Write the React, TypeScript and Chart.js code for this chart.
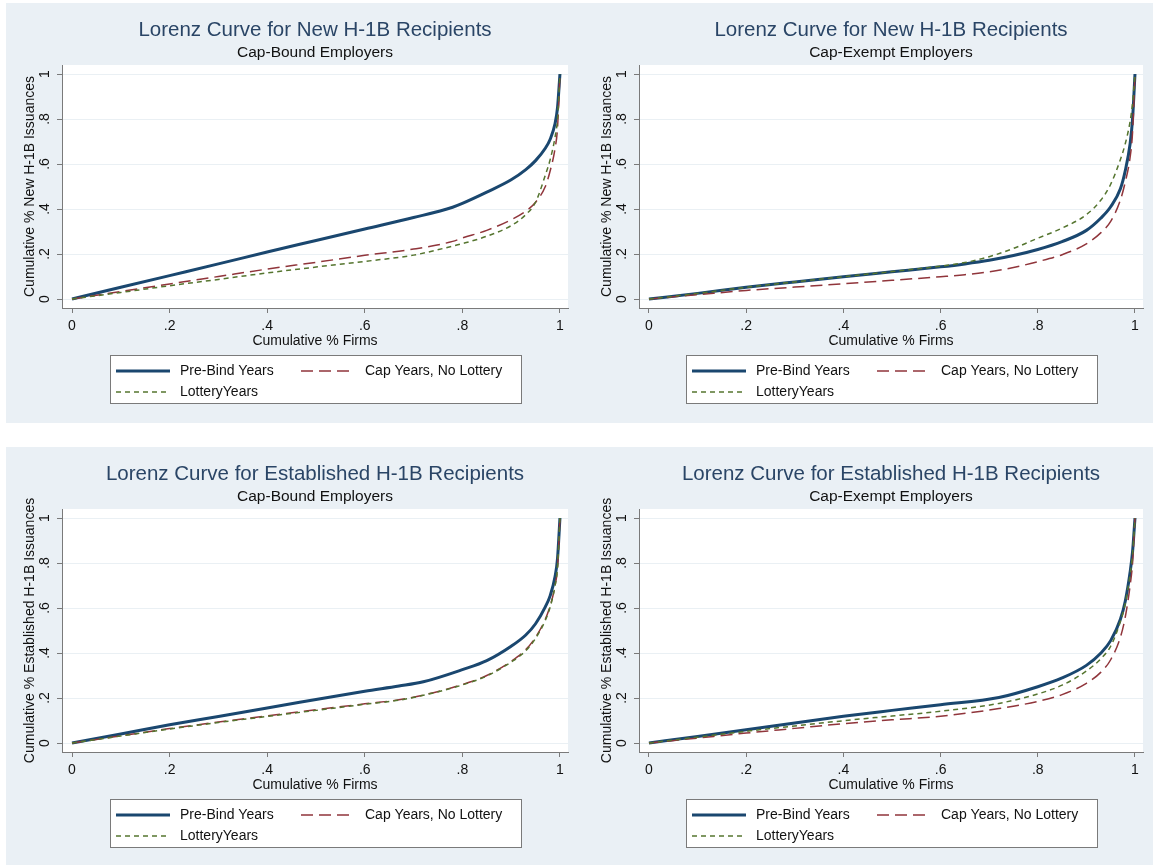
import React, { useEffect, useRef } from "react";
import { Chart, registerables } from "chart.js";

Chart.register(...registerables);

const FONT = "'Liberation Sans', Arial, Helvetica, sans-serif";

// ---- labels ----
const seriesNames = ["Pre-Bind Years", "Cap Years, No Lottery", "LotteryYears"];
const xTickValues = [0, 0.2, 0.4, 0.6, 0.8, 1];
const xTickLabels = ["0", ".2", ".4", ".6", ".8", "1"];
const yTickValues = [0, 0.2, 0.4, 0.6, 0.8, 1];
const yTickLabels = ["0", ".2", ".4", ".6", ".8", "1"];

// ---- New H-1B, Cap-Bound ----
const newBoundX = [0, 0.1, 0.2, 0.3, 0.4, 0.5, 0.6, 0.7, 0.78, 0.8, 0.85, 0.9, 0.93, 0.95, 0.97, 0.98, 0.99, 0.995, 1];
const newBoundPreBind = [0, 0.052, 0.104, 0.156, 0.209, 0.26, 0.311, 0.362, 0.408, 0.425, 0.475, 0.53, 0.575, 0.615, 0.67, 0.71, 0.78, 0.85, 1];
const newBoundCapNoLottery = [0, 0.033, 0.067, 0.1, 0.133, 0.163, 0.194, 0.222, 0.256, 0.271, 0.305, 0.352, 0.39, 0.43, 0.5, 0.57, 0.67, 0.76, 1];
const newBoundLottery = [0, 0.029, 0.059, 0.087, 0.116, 0.142, 0.167, 0.195, 0.235, 0.246, 0.279, 0.326, 0.375, 0.43, 0.55, 0.62, 0.72, 0.8, 1];

// ---- New H-1B, Cap-Exempt ----
const newExemptX = [0, 0.1, 0.2, 0.3, 0.4, 0.5, 0.6, 0.65, 0.7, 0.75, 0.8, 0.85, 0.9, 0.93, 0.95, 0.97, 0.98, 0.99, 0.995, 1];
const newExemptPreBind = [0, 0.025, 0.052, 0.076, 0.099, 0.121, 0.143, 0.156, 0.172, 0.193, 0.22, 0.255, 0.305, 0.36, 0.41, 0.49, 0.57, 0.69, 0.8, 1];
const newExemptCapNoLottery = [0, 0.019, 0.038, 0.053, 0.068, 0.083, 0.099, 0.108, 0.121, 0.14, 0.166, 0.197, 0.245, 0.295, 0.345, 0.44, 0.52, 0.63, 0.74, 1];
const newExemptLottery = [0, 0.025, 0.052, 0.076, 0.099, 0.122, 0.146, 0.162, 0.188, 0.225, 0.27, 0.315, 0.375, 0.44, 0.51, 0.62, 0.69, 0.79, 0.87, 1];

// ---- Established H-1B, Cap-Bound ----
const estBoundX = [0, 0.1, 0.2, 0.3, 0.4, 0.5, 0.6, 0.67, 0.72, 0.8, 0.85, 0.9, 0.93, 0.95, 0.97, 0.98, 0.99, 0.995, 1];
const estBoundPreBind = [0, 0.04, 0.081, 0.118, 0.156, 0.193, 0.23, 0.253, 0.272, 0.326, 0.366, 0.43, 0.48, 0.53, 0.605, 0.655, 0.74, 0.82, 1];
const estBoundCapNoLottery = [0, 0.032, 0.064, 0.093, 0.121, 0.148, 0.174, 0.192, 0.213, 0.26, 0.3, 0.363, 0.415, 0.47, 0.55, 0.61, 0.7, 0.78, 1];
const estBoundLottery = [0, 0.031, 0.062, 0.091, 0.118, 0.145, 0.172, 0.19, 0.212, 0.258, 0.298, 0.36, 0.41, 0.465, 0.545, 0.605, 0.7, 0.78, 1];

// ---- Established H-1B, Cap-Exempt ----
const estExemptX = [0, 0.1, 0.2, 0.3, 0.4, 0.5, 0.6, 0.72, 0.8, 0.85, 0.9, 0.93, 0.95, 0.97, 0.98, 0.99, 0.995, 1];
const estExemptPreBind = [0, 0.029, 0.059, 0.089, 0.119, 0.145, 0.17, 0.202, 0.25, 0.289, 0.345, 0.4, 0.455, 0.55, 0.63, 0.76, 0.85, 1];
const estExemptCapNoLottery = [0, 0.022, 0.044, 0.065, 0.086, 0.103, 0.119, 0.153, 0.185, 0.215, 0.265, 0.315, 0.37, 0.47, 0.56, 0.7, 0.8, 1];
const estExemptLottery = [0, 0.026, 0.052, 0.076, 0.099, 0.12, 0.141, 0.176, 0.218, 0.257, 0.32, 0.375, 0.43, 0.54, 0.62, 0.75, 0.84, 1];

const COLORS = ["#1a476f", "#90353b", "#55752f"];
const WIDTHS = [3, 1.5, 1.5];
const DASHES: number[][] = [[], [12, 6], [5, 4]];
const TITLE_COLOR = "#2a4566";
const TEXT_COLOR = "#111111";
const AXIS_COLOR = "#7a7a7a";
const GRID_COLOR = "#eaf0f4";
const BG = "#eaf0f5";

type Spec = {
  title: string;
  subtitle: string;
  yTitle: string;
  x: number[];
  series: number[][];
};

const specs: Spec[] = [
  {
    title: "Lorenz Curve for New H-1B Recipients",
    subtitle: "Cap-Bound Employers",
    yTitle: "Cumulative % New H-1B Issuances",
    x: newBoundX,
    series: [newBoundPreBind, newBoundCapNoLottery, newBoundLottery],
  },
  {
    title: "Lorenz Curve for New H-1B Recipients",
    subtitle: "Cap-Exempt Employers",
    yTitle: "Cumulative % New H-1B Issuances",
    x: newExemptX,
    series: [newExemptPreBind, newExemptCapNoLottery, newExemptLottery],
  },
  {
    title: "Lorenz Curve for Established H-1B Recipients",
    subtitle: "Cap-Bound Employers",
    yTitle: "Cumulative % Established H-1B Issuances",
    x: estBoundX,
    series: [estBoundPreBind, estBoundCapNoLottery, estBoundLottery],
  },
  {
    title: "Lorenz Curve for Established H-1B Recipients",
    subtitle: "Cap-Exempt Employers",
    yTitle: "Cumulative % Established H-1B Issuances",
    x: estExemptX,
    series: [estExemptPreBind, estExemptCapNoLottery, estExemptLottery],
  },
];

type Box = { left: number; top: number; width: number; height: number; l: number; r: number; t: number; b: number };

const boxes: Box[] = [
  { left: 0, top: 0, width: 576, height: 432, l: 62, r: 568, t: 65, b: 308 },
  { left: 576, top: 0, width: 577, height: 432, l: 63, r: 567, t: 65, b: 308 },
  { left: 0, top: 432, width: 576, height: 433, l: 62, r: 568, t: 77, b: 320 },
  { left: 576, top: 432, width: 577, height: 433, l: 63, r: 567, t: 77, b: 320 },
];

const Y_AXIS_W = 50;
const X_AXIS_H = 60;

function Panel({ spec, box }: { spec: Spec; box: Box }) {
  const ref = useRef<HTMLCanvasElement>(null);
  useEffect(() => {
    const canvas = ref.current;
    if (!canvas) return;
    const decor = {
      id: "decor",
      beforeDraw(chart: any) {
        const { ctx, chartArea: a } = chart;
        ctx.save();
        ctx.fillStyle = "#ffffff";
        ctx.fillRect(a.left, a.top, a.right - a.left, a.bottom - a.top);
        ctx.restore();
      },
      afterDraw(chart: any) {
        const { ctx, chartArea: a } = chart;
        const cx = (a.left + a.right) / 2;
        ctx.save();
        ctx.textAlign = "center";
        ctx.textBaseline = "middle";
        ctx.fillStyle = TITLE_COLOR;
        ctx.font = `20.5px ${FONT}`;
        ctx.fillText(spec.title, cx, a.top - 35);
        ctx.fillStyle = TEXT_COLOR;
        ctx.font = `15.5px ${FONT}`;
        ctx.fillText(spec.subtitle, cx, a.top - 12);

        // legend box
        const bw = 411;
        const bh = 48;
        const bx = Math.round(cx - bw / 2);
        const by = Math.round(a.bottom + 47);
        ctx.fillStyle = "#ffffff";
        ctx.fillRect(bx, by, bw, bh);
        ctx.strokeStyle = AXIS_COLOR;
        ctx.lineWidth = 1;
        ctx.strokeRect(bx + 0.5, by + 0.5, bw, bh);
        const slots = [
          { col: 0, row: 0 },
          { col: 1, row: 0 },
          { col: 0, row: 1 },
        ];
        chart.data.datasets.forEach((ds: any, i: number) => {
          const s = slots[i];
          const sx = bx + (s.col ? 191 : 6);
          const ty = by + (s.row ? 37 : 16);
          ctx.beginPath();
          ctx.setLineDash(ds.borderDash || []);
          ctx.strokeStyle = ds.borderColor;
          ctx.lineWidth = ds.borderWidth;
          ctx.moveTo(sx, ty);
          ctx.lineTo(sx + 54, ty);
          ctx.stroke();
          ctx.setLineDash([]);
          ctx.fillStyle = TEXT_COLOR;
          ctx.textAlign = "left";
          ctx.font = `14px ${FONT}`;
          ctx.fillText(ds.label, sx + 64, ty);
        });
        ctx.restore();
      },
    };

    const pad = {
      left: box.l - Y_AXIS_W,
      right: box.width - box.r,
      top: box.t,
      bottom: box.height - box.b - X_AXIS_H,
    };

    const chart = new Chart(canvas, {
      type: "line",
      data: {
        datasets: spec.series.map((ys, i) => ({
          label: seriesNames[i],
          data: spec.x.map((x, j) => ({ x, y: ys[j] })),
          borderColor: COLORS[i],
          borderWidth: WIDTHS[i],
          borderDash: DASHES[i],
          pointRadius: 0,
          cubicInterpolationMode: "monotone" as const,
          fill: false,
          order: 3 - i,
        })),
      },
      options: {
        responsive: false,
        animation: false,
        events: [],
        layout: { padding: pad },
        plugins: {
          legend: { display: false },
          title: { display: false },
          tooltip: { enabled: false },
        },
        scales: {
          x: {
            type: "linear",
            min: -0.0205,
            max: 1.0165,
            afterBuildTicks: (s: any) => {
              s.ticks = xTickValues.map((v) => ({ value: v }));
            },
            afterFit: (s: any) => {
              s.height = X_AXIS_H;
            },
            ticks: {
              callback: (_v: any, i: number) => xTickLabels[i],
              font: { family: FONT, size: 14 },
              color: TEXT_COLOR,
              padding: 5,
              maxRotation: 0,
              autoSkip: false,
            },
            grid: { drawOnChartArea: false, tickLength: 5, tickColor: AXIS_COLOR },
            border: { color: AXIS_COLOR, width: 1 },
            title: {
              display: true,
              text: "Cumulative % Firms",
              font: { family: FONT, size: 14 },
              color: TEXT_COLOR,
              padding: { top: 0, bottom: 18.6 },
            },
          },
          y: {
            type: "linear",
            min: -0.04,
            max: 1.04,
            afterBuildTicks: (s: any) => {
              s.ticks = yTickValues.map((v) => ({ value: v }));
            },
            afterFit: (s: any) => {
              s.width = Y_AXIS_W;
            },
            ticks: {
              callback: (_v: any, i: number) => yTickLabels[i],
              font: { family: FONT, size: 14 },
              color: TEXT_COLOR,
              padding: 6,
              minRotation: 90,
              maxRotation: 90,
              crossAlign: "center",
              autoSkip: false,
            },
            grid: { color: GRID_COLOR, tickLength: 5, tickColor: AXIS_COLOR },
            border: { color: AXIS_COLOR, width: 1 },
            title: {
              display: true,
              text: spec.yTitle,
              font: { family: FONT, size: 14 },
              color: TEXT_COLOR,
              padding: { top: 10, bottom: 0 },
            },
          },
        },
      } as any,
      plugins: [decor],
    });
    return () => chart.destroy();
  }, [spec, box]);

  return (
    <canvas
      ref={ref}
      width={box.width}
      height={box.height}
      style={{ position: "absolute", left: box.left, top: box.top, width: box.width, height: box.height }}
    />
  );
}

export default function App() {
  return (
    <div
      style={{
        position: "absolute",
        left: 0,
        top: 0,
        width: 1153,
        height: 865,
        background: "#ffffff",
        overflow: "hidden",
      }}
    >
      <div style={{ position: "absolute", left: 6, top: 3, width: 1147, height: 420, background: BG }} />
      <div style={{ position: "absolute", left: 6, top: 447, width: 1147, height: 418, background: BG }} />
      {specs.map((s, i) => (
        <Panel key={i} spec={s} box={boxes[i]} />
      ))}
    </div>
  );
}
